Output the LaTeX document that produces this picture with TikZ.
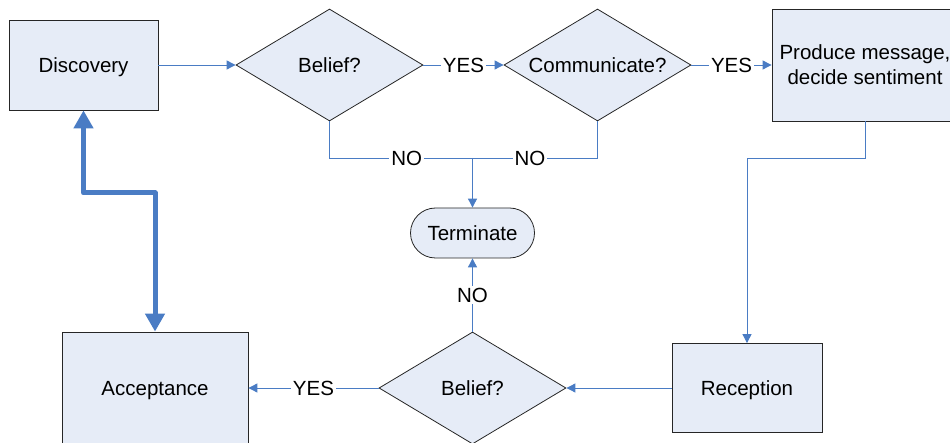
\documentclass[tikz,border=0pt]{standalone}
\usepackage{fontspec}
\setmainfont{Liberation Sans}
\usepackage{tikz}
\usetikzlibrary{
  arrows.meta,
  shapes.geometric
}
\definecolor{boxfill}{HTML}{E6ECF7}
\definecolor{linkblue}{HTML}{4A7CC4}

\begin{document}
\begin{tikzpicture}[
  x=1pt, y=-1pt,
  every node/.style={font=\fontsize{20.5}{25}\selectfont},
  oneline/.style={text height=14.7pt, text depth=0pt},
  stagebox/.style={draw=black!85, line width=0.8pt, fill=boxfill, align=center, inner sep=0pt},
  query/.style={diamond, draw=black!85, line width=0.8pt, fill=boxfill, inner sep=0pt, oneline,
    shape aspect=1.67, minimum width=187, minimum height=112},
  endbox/.style={draw=black!85, line width=0.8pt, fill=boxfill, rounded corners=25pt, oneline,
    minimum width=124, minimum height=50},
  link/.style={draw=linkblue, line width=0.9pt},
  flow/.style={link, -{Triangle[length=9pt, width=9pt]}},
  bigflow/.style={draw=linkblue, line width=5pt, line join=round,
    {Triangle[length=18pt, width=19pt]}-{Triangle[length=18pt, width=19pt]}},
  answer/.style={fill=white, inner sep=2pt, oneline}
]
\useasboundingbox (0,0) rectangle (950,443);

% top row
\node[stagebox, oneline, minimum width=149, minimum height=90] (disc) at (83.5,65) {Discovery};
\node[query] (bel1) at (329.5,65) {Belief?};
\node[query] (comm) at (597.5,65) {Communicate?};
\node[stagebox, minimum width=186, minimum height=112] (prod) at (865,65) {Produce message,\\decide sentiment};

% middle
\node[endbox] (term) at (472.5,233) {Terminate};
\coordinate (join) at (472.5,158);
\coordinate (turn) at (747,158);
\coordinate (kink) at (155,193);

% bottom row
\node[stagebox, oneline, minimum width=186, minimum height=112] (acc) at (155,388) {Acceptance};
\node[query] (bel2) at (472.5,388) {Belief?};
\node[stagebox, oneline, minimum width=150, minimum height=89] (recp) at (747,388) {Reception};

\draw[flow] (disc) -- (bel1);
\draw[flow] (bel1) -- node[answer]{YES} (comm);
\draw[flow] (comm) -- node[answer]{YES} (prod);
\draw[link] (bel1.south) |- node[answer, pos=0.77]{NO} (join);
\draw[link] (comm.south) |- node[answer, pos=0.77]{NO} (join);
\draw[flow] (join) -- (term);
\draw[flow] (prod.south) |- (turn) -- (recp);
\draw[flow] (recp) -- (bel2);
\draw[flow] (bel2) -- node[answer]{NO} (term);
\draw[flow] (bel2) -- node[answer]{YES} (acc);
\draw[bigflow] (disc.south) |- (kink) -- (acc.north);
\end{tikzpicture}
\end{document}
